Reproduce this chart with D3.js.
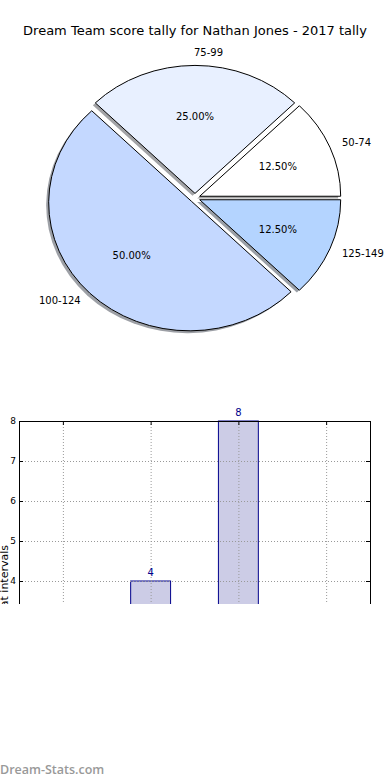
<!DOCTYPE html>
<html>
<head>
<meta charset="utf-8">
<script src="https://cdn.jsdelivr.net/npm/d3@7"></script>
<style>
  body { margin: 0; background: #fff; }
  svg { display: block; font-family: "DejaVu Sans", sans-serif; }
</style>
</head>
<body>
<svg id="chart"></svg>
<script>
/* données */
const titre = 'Dream Team score tally for Nathan Jones - 2017 tally'
const categories = ['50-74', '75-99', '100-124', '125-149']
const valeurs = [2, 4, 8, 2]
const couleurs = ['#ffffff', '#e8f0ff', '#c4d8ff', '#b4d4ff']
const yTicks = [0, 1, 2, 3, 4, 5, 6, 7, 8]

const width = 390, height = 780

const svg = d3.select('#chart').attr('width', width).attr('height', height)

/* titre */
svg.append('text')
   .attr('x', 195).attr('y', 35)
   .attr('text-anchor', 'middle')
   .style('font-size', '13px')
   .text(titre)

/* camembert */
const cx = 195, cy = 198, rx = 141, ry = 128
const explode = 0.036
const total = d3.sum(valeurs)

const pie = d3.pie().sort(null)
              .startAngle(Math.PI / 2)
              .endAngle(Math.PI / 2 - 2 * Math.PI)
const arcs = pie(valeurs)
const arc = d3.arc().innerRadius(0).outerRadius(1)

const pieG = svg.append('g')

const drawWedges = (cls, dx, dy, fill, op) => {
    pieG.selectAll('.' + cls)
        .data(arcs)
        .enter()
        .append('path')
        .attr('class', cls)
        .attr('d', arc)
        .attr('transform', d => {
            const mid = (d.startAngle + d.endAngle) / 2
            const ox = cx + dx + explode * rx * Math.sin(mid)
            const oy = cy + dy - explode * ry * Math.cos(mid)
            return 'translate(' + ox + ',' + oy + ') scale(' + rx + ',' + ry + ')'
        })
        .attr('fill', fill)
        .attr('opacity', op)
        .attr('stroke', cls === 'wedge' ? '#000' : 'none')
        .attr('stroke-width', 1)
        .attr('vector-effect', 'non-scaling-stroke')
}

/* ombre puis parts */
drawWedges('shadow', -2.5, 2.3, (d, i) => {
    const c = d3.rgb(couleurs[i])
    return d3.rgb(c.r * 0.3, c.g * 0.3, c.b * 0.3)
}, 0.5)
drawWedges('wedge', 0, 0, (d, i) => couleurs[i], 1)

/* étiquettes */
arcs.forEach((d, i) => {
    const mid = (d.startAngle + d.endAngle) / 2
    const sx = Math.sin(mid), sy = -Math.cos(mid)
    const ox = cx + explode * rx * sx, oy = cy + explode * ry * sy
    pieG.append('text')
        .attr('x', ox + 1.1 * rx * sx - 1)
        .attr('y', oy + 1.1 * ry * sy)
        .attr('dy', '0.35em')
        .attr('text-anchor', sx > -1e-9 ? 'start' : 'end')
        .style('font-size', '10px')
        .text(categories[i])
    pieG.append('text')
        .attr('x', ox + 0.6 * rx * sx)
        .attr('y', oy + 0.6 * ry * sy)
        .attr('dy', '0.35em')
        .attr('text-anchor', 'middle')
        .style('font-size', '10px')
        .text((d.value / total * 100).toFixed(2) + '%')
})

/* histogramme (coupé en bas) */
svg.append('clipPath').attr('id', 'coupe')
   .append('rect').attr('x', 0).attr('y', 0).attr('width', width).attr('height', 604)

const barG = svg.append('g').attr('clip-path', 'url(#coupe)')

const plot = { left: 19, right: 370, top: 421, bottom: 741 }

const xScale = d3.scalePoint().domain(categories)
                 .range([plot.left, plot.right]).padding(0.5)
const yScale = d3.scaleLinear().domain([0, 8]).range([plot.bottom, plot.top])
const barW = xScale.step() * 0.455

barG.selectAll('.bar')
    .data(valeurs)
    .enter()
    .append('rect')
    .attr('class', 'bar')
    .attr('x', (v, i) => xScale(categories[i]) - barW / 2)
    .attr('y', v => yScale(v))
    .attr('width', barW)
    .attr('height', v => yScale(0) - yScale(v))
    .attr('fill', '#ccccE6')
    .attr('stroke', '#00008b')
    .attr('stroke-width', 1)

/* grille */
const grid = barG.append('g')
    .attr('stroke', '#999').attr('stroke-width', 1).attr('stroke-dasharray', '1,2')
grid.selectAll('.gy').data(yTicks).enter().append('line')
    .attr('x1', plot.left).attr('x2', plot.right)
    .attr('y1', v => yScale(v) + 0.5).attr('y2', v => yScale(v) + 0.5)
grid.selectAll('.gx').data(categories).enter().append('line')
    .attr('y1', plot.top).attr('y2', plot.bottom)
    .attr('x1', c => xScale(c) + 0.5).attr('x2', c => xScale(c) + 0.5)

/* valeurs au-dessus des barres */
barG.selectAll('.val')
    .data(valeurs)
    .enter()
    .append('text')
    .attr('x', (v, i) => xScale(categories[i]))
    .attr('y', v => yScale(v) - 5)
    .attr('text-anchor', 'middle')
    .attr('fill', '#00008b')
    .style('font-size', '10px')
    .text(v => v)

/* axes */
const yAxis = d3.axisLeft(yScale).tickValues(yTicks).tickSize(-4).tickPadding(3)
barG.append('g').attr('transform', 'translate(' + plot.left + ',0)').call(yAxis)
    .attr('font-family', null).attr('font-size', 9)
    .call(g => g.select('.domain').remove())
const yAxisR = d3.axisRight(yScale).tickValues(yTicks).tickSize(-4).tickFormat('')
barG.append('g').attr('transform', 'translate(' + plot.right + ',0)').call(yAxisR)
    .call(g => g.select('.domain').remove())
const xAxisT = d3.axisTop(xScale).tickSize(-4).tickFormat('')
barG.append('g').attr('transform', 'translate(0,' + plot.top + ')').call(xAxisT)
    .call(g => g.select('.domain').remove())
const xAxis = d3.axisBottom(xScale).tickSize(-4).tickPadding(6)
barG.append('g').attr('transform', 'translate(0,' + plot.bottom + ')').call(xAxis)
    .attr('font-family', null).attr('font-size', 9)
    .call(g => g.select('.domain').remove())

/* cadre */
barG.append('rect')
    .attr('x', plot.left + 0.5).attr('y', plot.top + 0.5)
    .attr('width', plot.right - plot.left).attr('height', plot.bottom - plot.top)
    .attr('fill', 'none').attr('stroke', '#000').attr('stroke-width', 1)

/* titre axe y */
barG.append('text')
    .attr('transform', 'translate(8,545) rotate(-90)')
    .attr('text-anchor', 'end')
    .style('font-size', '11px')
    .text('Number of scores at intervals')

/* filigrane */
svg.append('text')
   .attr('x', 0).attr('y', 774)
   .attr('fill', '#999')
   .style('font-family', '"Open Sans", sans-serif')
   .style('font-weight', 600)
   .style('font-size', '12.5px')
   .text('Dream-Stats.com')
</script>
</body>
</html>
